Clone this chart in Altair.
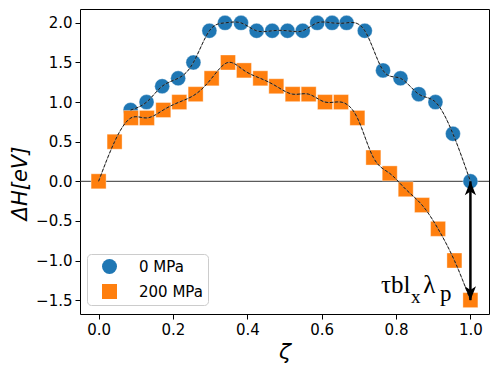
import altair as alt
import pandas as pd

# ---- data ----
x_blue = [0.086, 0.129, 0.171, 0.214, 0.255, 0.298, 0.340, 0.383, 0.425, 0.467, 0.508,
          0.549, 0.588, 0.628, 0.667, 0.716, 0.765, 0.812, 0.861, 0.906, 0.953, 1.0]
y_blue = [0.9, 1.0, 1.2, 1.3, 1.5, 1.9, 2.0, 2.0, 1.9, 1.9, 1.9,
          1.9, 2.0, 2.0, 2.0, 1.9, 1.4, 1.3, 1.1, 1.0, 0.6, 0.0]
x_orange = [0.0, 0.043, 0.087, 0.130, 0.174, 0.217, 0.261, 0.304, 0.348, 0.391, 0.435, 0.478,
            0.522, 0.565, 0.609, 0.652, 0.696, 0.739, 0.783, 0.826, 0.870, 0.913, 0.957, 1.0]
y_orange = [0.0, 0.5, 0.8, 0.8, 0.9, 1.0, 1.1, 1.3, 1.5, 1.4, 1.3, 1.2,
            1.1, 1.1, 1.0, 1.0, 0.8, 0.3, 0.1, -0.1, -0.3, -0.6, -1.0, -1.5]
series_names = ["0 MPa", "200 MPa"]
series_colors = ["#1f77b4", "#ff7f0e"]
series_shapes = ["circle", "square"]

x_ticks = [0.0, 0.2, 0.4, 0.6, 0.8, 1.0]
y_ticks = [-1.5, -1.0, -0.5, 0.0, 0.5, 1.0, 1.5, 2.0]

arrow_x = [1.0]
arrow_top = [0.0]
arrow_bottom = [-1.5]

df = pd.concat([
    pd.DataFrame({"x": x_blue, "y": y_blue, "series": series_names[0]}),
    pd.DataFrame({"x": x_orange, "y": y_orange, "series": series_names[1]}),
], ignore_index=True)
arrow_df = pd.DataFrame({"x": arrow_x, "y": arrow_top, "y2": arrow_bottom})

xs = alt.Scale(domain=[-0.05, 1.05], nice=False, zero=False)
ys = alt.Scale(domain=[-1.675, 2.175], nice=False, zero=False)

x_enc = alt.X("x:Q", scale=xs, axis=alt.Axis(values=x_ticks, format=".1f", title="ζ",
                                             titleFontSize=22, titleFontStyle="italic",
                                             titlePadding=4))
y_enc = alt.Y("y:Q", scale=ys, axis=alt.Axis(values=y_ticks, format=".1f", title="ΔH[eV]",
                                             titleFontSize=21, titleFontStyle="italic",
                                             titleX=-60, titleY=174, titleAngle=270,
                                             titleAlign="center", titleBaseline="middle"))

leg = alt.Legend(title=None, orient="none", legendX=7, legendY=245,
                 labelFont="DejaVu Sans", labelFontSize=15, labelColor="black",
                 symbolSize=225, padding=5, symbolOffset=10, labelOffset=22,
                 rowPadding=9, fillColor="rgba(255,255,255,0.8)", strokeColor="#cccccc",
                 cornerRadius=4, symbolStrokeWidth=0)

hline = alt.Chart(pd.DataFrame({"y": [0.0]})).mark_rule(color="#333333", strokeWidth=1).encode(
    y=alt.Y("y:Q", scale=ys))

points = alt.Chart(df).mark_point(filled=True, opacity=1, size=225, stroke="white",
                                  strokeOpacity=0.45, strokeWidth=0.8).encode(
    x=x_enc, y=y_enc,
    color=alt.Color("series:N", scale=alt.Scale(domain=series_names, range=series_colors), legend=leg),
    shape=alt.Shape("series:N", scale=alt.Scale(domain=series_names, range=series_shapes), legend=leg),
    order=alt.Order("series:N"),
)

line_gray = alt.Chart(df).mark_line(interpolate="natural", color="#808080", strokeWidth=0.8).encode(
    x=alt.X("x:Q", scale=xs), y=alt.Y("y:Q", scale=ys), detail="series:N")
line_dash = alt.Chart(df).mark_line(interpolate="natural", color="black", strokeWidth=0.8,
                                    strokeDash=[3, 2]).encode(
    x=alt.X("x:Q", scale=xs), y=alt.Y("y:Q", scale=ys), detail="series:N")

shaft = alt.Chart(arrow_df).mark_rule(color="black", strokeWidth=2.5).encode(
    x=alt.X("x:Q", scale=xs), y=alt.Y("y:Q", scale=ys), y2="y2:Q")
head_up = alt.Chart(arrow_df).mark_point(shape="M0,0 L0.4,1 L0,0.72 L-0.4,1 Z", size=784,
                                         filled=True, color="black", opacity=1).encode(
    x=alt.X("x:Q", scale=xs), y=alt.Y("y:Q", scale=ys))
head_down = alt.Chart(arrow_df).mark_point(shape="M0,0 L0.4,-1 L0,-0.72 L-0.4,-1 Z", size=784,
                                           filled=True, color="black", opacity=1).encode(
    x=alt.X("x:Q", scale=xs), y=alt.Y("y2:Q", scale=ys))

def piece(txt, size, dx, dy):
    return alt.Chart(arrow_df).mark_text(text=txt, font="Liberation Serif", fontSize=size,
                                         align="right", baseline="alphabetic", dx=dx, dy=dy,
                                         color="black").encode(
        x=alt.X("x:Q", scale=xs), y=alt.Y("y2:Q", scale=ys))

label = (piece("τbl", 25, -60, -7) + piece("x", 19, -50, 3)
         + piece("λ", 25, -35, -7) + piece("p", 23, -19, 0.5))

chart = alt.layer(hline, points, line_gray, line_dash, shaft, head_up, head_down, label).properties(
    width=409, height=305,
    padding={"left": 72, "top": 1, "right": 1, "bottom": 50},
    autosize="none",
).configure_view(stroke="black", strokeWidth=1).configure_axis(
    grid=False, domain=False, tickColor="black", tickSize=5, tickWidth=1,
    labelFont="DejaVu Sans", labelFontSize=15, labelColor="black", labelPadding=3,
    titleFont="DejaVu Sans", titleColor="black", titleFontWeight="normal",
)

chart.save("out.html", embed_options={"renderer": "svg", "actions": False})
